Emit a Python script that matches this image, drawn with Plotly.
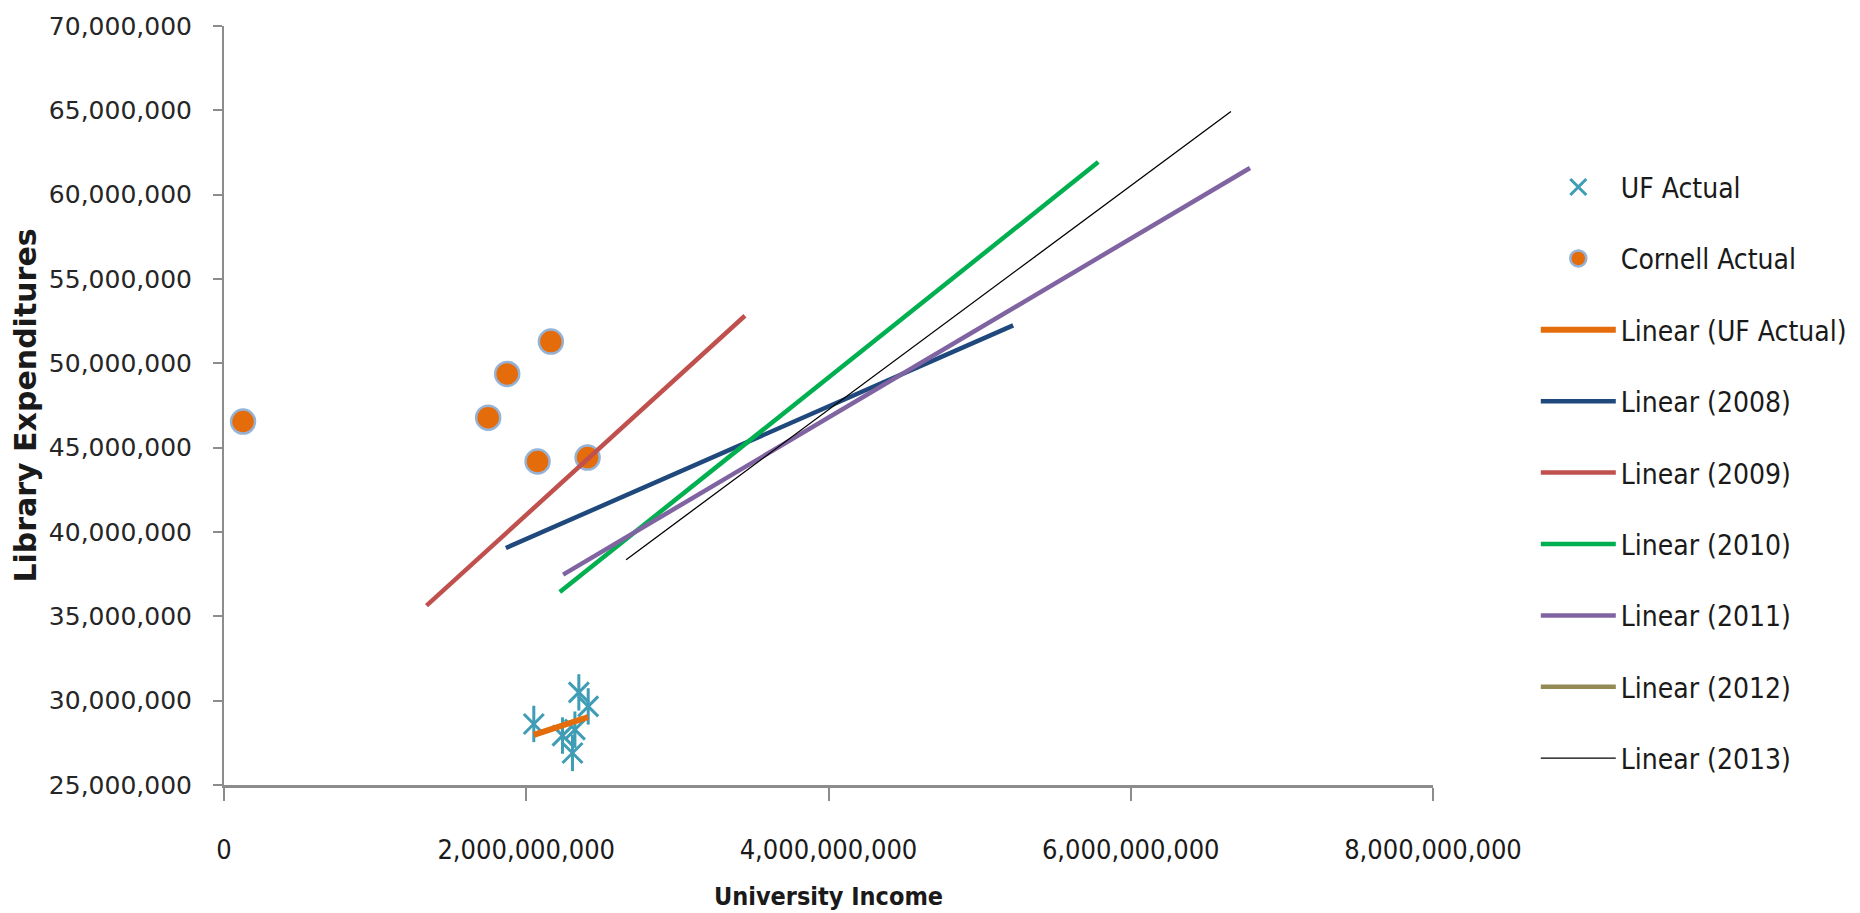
import numpy as np
import plotly.graph_objects as go

# ---- data ----
uf_income = [2.050e9, 2.348e9, 2.410e9, 2.240e9, 2.322e9, 2.306e9]
uf_expend = [28.62e6, 30.49e6, 29.66e6, 27.93e6, 28.28e6, 26.90e6]

cornell_income = [0.126e9, 1.748e9, 1.874e9, 2.163e9, 2.075e9, 2.406e9]
cornell_expend = [46.55e6, 46.78e6, 49.37e6, 51.29e6, 44.18e6, 44.41e6]

trend_names = ["Linear (2008)", "Linear (2009)", "Linear (2010)", "Linear (2011)", "Linear (2012)", "Linear (2013)"]
trend_x0 = [1.865e9, 1.340e9, 2.222e9, 2.244e9, None, 2.661e9]
trend_x1 = [5.222e9, 3.447e9, 5.785e9, 6.789e9, None, 6.663e9]
trend_y0 = [39.05e6, 35.63e6, 36.44e6, 37.47e6, None, 38.36e6]
trend_y1 = [52.25e6, 52.82e6, 61.93e6, 61.58e6, None, 64.93e6]
trend_colors = ["#1F497D", "#C0504D", "#00B050", "#8064A2", "#948A54", "#000000"]
trend_widths = [4.5, 4.5, 4.5, 4.5, 4.5, 1.3]

x_ticks = [0, 2e9, 4e9, 6e9, 8e9]
y_ticks = [25e6, 30e6, 35e6, 40e6, 45e6, 50e6, 55e6, 60e6, 65e6, 70e6]

fig = go.Figure()

# UF actual (six-armed star = x + vertical line)
fig.add_trace(go.Scatter(
    x=uf_income, y=uf_expend, mode="markers", name="UF Actual",
    legendgroup="g1",
    marker=dict(symbol="x-thin-open", size=20, color="#3F9DB5",
                line=dict(color="#3F9DB5", width=3))))
fig.add_trace(go.Scatter(
    x=uf_income, y=uf_expend, mode="markers", showlegend=False,
    legendgroup="g1", hoverinfo="skip",
    marker=dict(symbol="line-ns-open", size=26, color="#3F9DB5",
                line=dict(color="#3F9DB5", width=3))))

fig.add_trace(go.Scatter(
    x=cornell_income, y=cornell_expend, mode="markers", name="Cornell Actual",
    legendgroup="g2",
    marker=dict(symbol="circle", size=24, color="#E46C0A",
                line=dict(color="#95B3D7", width=2.5))))

# UF linear trend
coef = np.polyfit(uf_income, uf_expend, 1)
ux = [min(uf_income), max(uf_income)]
uy = list(np.polyval(coef, ux))
fig.add_trace(go.Scatter(
    x=ux, y=uy, mode="lines", name="Linear (UF Actual)", legendgroup="g3",
    line=dict(color="#E46C0A", width=6)))

for i, nm in enumerate(trend_names):
    if trend_x0[i] is None:
        xs, ys = [None], [None]
    else:
        xs, ys = [trend_x0[i], trend_x1[i]], [trend_y0[i], trend_y1[i]]
    fig.add_trace(go.Scatter(
        x=xs, y=ys, mode="lines", name=nm, legendgroup="t%d" % i,
        line=dict(color=trend_colors[i], width=trend_widths[i])))

axis_line = "#8C8C8C"
cond = "DejaVu Sans Condensed, DejaVu Sans"
fig.update_layout(
    width=1860, height=913,
    paper_bgcolor="white", plot_bgcolor="white",
    margin=dict(l=216, r=435, t=18, b=136),
    showlegend=True,
    legend=dict(
        xref="container", yref="container",
        x=0.8214, y=0.831, xanchor="left", yanchor="top",
        maxheight=900,
        font=dict(family=cond, size=28, color="#1a1a1a"),
        tracegroupgap=32, itemwidth=75, bgcolor="rgba(0,0,0,0)"),
    xaxis=dict(
        range=[0, 8e9], tickvals=x_ticks, tickformat=",", showgrid=False,
        zeroline=False, showline=True, linecolor=axis_line, linewidth=2.5,
        ticks="outside", ticklen=13, tickcolor=axis_line, tickwidth=1.5,
        ticklabelstandoff=26, automargin=False,
        tickfont=dict(family=cond, size=27, color="#1a1a1a"),
        title=dict(text="<b>University Income</b>", standoff=24,
                   font=dict(family=cond, size=25, color="#1a1a1a"))),
    yaxis=dict(
        range=[25e6, 70e6], tickvals=y_ticks, tickformat=",", showgrid=False,
        zeroline=False, showline=True, linecolor=axis_line, linewidth=2,
        ticks="outside", ticklen=9, tickcolor=axis_line, tickwidth=1.5,
        ticklabelstandoff=16, automargin=False,
        tickfont=dict(family="DejaVu Sans", size=25, color="#262626"),
        title=dict(text="<b>Library Expenditures</b>", standoff=6,
                   font=dict(family="DejaVu Sans", size=30, color="#1a1a1a"))),
)

fig.write_html("out.html")
